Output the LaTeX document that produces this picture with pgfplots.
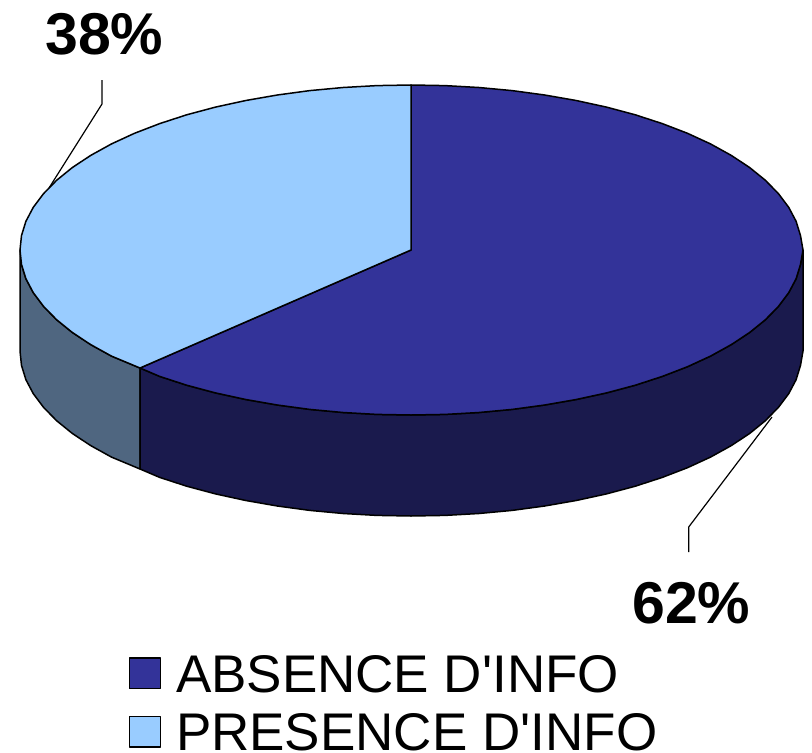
\documentclass[border=0pt]{standalone}
\usepackage{fontspec}
\setmainfont{Liberation Sans}
\newfontfamily\legendfont{Liberation Sans}
\usepackage{pgfplots}
\pgfplotsset{compat=1.18}

\definecolor{absTop}{HTML}{333399}
\definecolor{absSide}{HTML}{1A1A4D}
\definecolor{preTop}{HTML}{99CCFF}
\definecolor{preSide}{HTML}{4F6680}

\begin{document}
\begin{tikzpicture}[x=1pt,y=1pt]
    \useasboundingbox (0,0) rectangle (812,753);
    \begin{axis}[
            at={(0,0)},
            anchor=south west,
            scale only axis,
            width=812pt,
            height=753pt,
            xmin=0, xmax=812,
            ymin=0, ymax=753,
            y dir=reverse,
            hide axis,
            clip=false,
            every axis plot/.append style={line width=1.5pt, line join=round},
            legend cell align=left,
            legend image code/.code={
                \draw[#1, line width=1.5pt] (0pt,-14pt) rectangle (31pt,16.6pt);
            },
            legend style={
                at={(axis cs:128.7,653.4)},
                anchor=north west,
                draw=none,
                fill=none,
                inner sep=0pt,
                outer sep=0pt,
                font={\legendfont\fontsize{53pt}{58pt}\selectfont},
                row sep=16pt,
                /tikz/every odd column/.append style={column sep=12.8pt},
            },
        ]
        % side of the light slice
        \addplot[fill=preSide, draw=black, forget plot] coordinates {
            (140,368) (111.5,356.1) (90.7,344.6) (72.4,332.5) (56.6,319.7) (43.6,306.4)
            (33.3,292.7) (25.9,278.7) (21.5,264.4) (20,250)
            (20,351) (21.5,365.4) (25.9,379.7) (33.3,393.7) (43.6,407.4) (56.6,420.7)
            (72.4,433.5) (90.7,445.6) (111.5,457.1) (140,469)
        } -- cycle;
        % side of the dark slice
        \addplot[fill=absSide, draw=black, forget plot] coordinates {
            (803,250) (800.5,264.4) (796.1,278.7) (788.7,292.7) (778.4,306.4) (765.4,319.7)
            (749.6,332.5) (731.3,344.6) (710.5,356.1) (687.5,366.7) (662.3,376.4)
            (635.3,385.2) (606.5,392.9) (576.2,399.5) (544.7,405) (512.2,409.4)
            (478.9,412.5) (445.1,414.4) (411,415) (376.9,414.4) (343.1,412.5)
            (309.8,409.4) (277.3,405) (245.8,399.5) (215.5,392.9) (186.7,385.2)
            (159.7,376.4) (140,368)
            (140,469) (159.7,477.4) (186.7,486.2) (215.5,493.9) (245.8,500.5) (277.3,506)
            (309.8,510.4) (343.1,513.5) (376.9,515.4) (411,516) (445.1,515.4)
            (478.9,513.5) (512.2,510.4) (544.7,506) (576.2,500.5) (606.5,493.9)
            (635.3,486.2) (662.3,477.4) (687.5,467.7) (710.5,457.1) (731.3,445.6)
            (749.6,433.5) (765.4,420.7) (778.4,407.4) (788.7,393.7) (796.1,379.7)
            (800.5,365.4) (803,351)
        } -- cycle;
        % top, 62 %
        \addplot[fill=absTop, draw=black] coordinates {
            (411,250) (411,85) (445.1,85.6) (478.9,87.5) (512.2,90.6) (544.7,95)
            (576.2,100.5) (606.5,107.1) (635.3,114.8) (662.3,123.6) (687.5,133.3)
            (710.5,143.9) (731.3,155.4) (749.6,167.5) (765.4,180.3) (778.4,193.6)
            (788.7,207.3) (796.1,221.3) (800.5,235.6) (803,250)
            (800.5,264.4) (796.1,278.7) (788.7,292.7) (778.4,306.4) (765.4,319.7)
            (749.6,332.5) (731.3,344.6) (710.5,356.1) (687.5,366.7) (662.3,376.4)
            (635.3,385.2) (606.5,392.9) (576.2,399.5) (544.7,405) (512.2,409.4)
            (478.9,412.5) (445.1,414.4) (411,415) (376.9,414.4) (343.1,412.5)
            (309.8,409.4) (277.3,405) (245.8,399.5) (215.5,392.9) (186.7,385.2)
            (159.7,376.4) (140,368)
        } -- cycle;
        \addlegendentry{ABSENCE D'INFO}
        % top, 38 %
        \addplot[fill=preTop, draw=black] coordinates {
            (411,250) (140,368) (111.5,356.1) (90.7,344.6) (72.4,332.5) (56.6,319.7)
            (43.6,306.4) (33.3,292.7) (25.9,278.7) (21.5,264.4) (20,250) (21.5,235.6)
            (25.9,221.3) (33.3,207.3) (43.6,193.6) (56.6,180.3) (72.4,167.5) (90.7,155.4)
            (111.5,143.9) (134.5,133.3) (159.7,123.6) (186.7,114.8) (215.5,107.1)
            (245.8,100.5) (277.3,95) (309.8,90.6) (343.1,87.5) (376.9,85.6) (411,85)
        } -- cycle;
        \addlegendentry{PRESENCE D'INFO}
        % leader lines
        \addplot[draw=black, line width=1.2pt, forget plot] coordinates {(102,80) (102,104) (49,188)};
        \addplot[draw=black, line width=1.2pt, forget plot] coordinates {(688.7,552) (688.7,527) (772,417)};
        \node[anchor=base west, inner sep=0pt, font={\fontsize{59pt}{59pt}\selectfont\bfseries}]
            at (axis cs:45,54) {38\%};
        \node[anchor=base west, inner sep=0pt, font={\fontsize{59pt}{59pt}\selectfont\bfseries}]
            at (axis cs:632,623) {62\%};
    \end{axis}
\end{tikzpicture}
\end{document}
